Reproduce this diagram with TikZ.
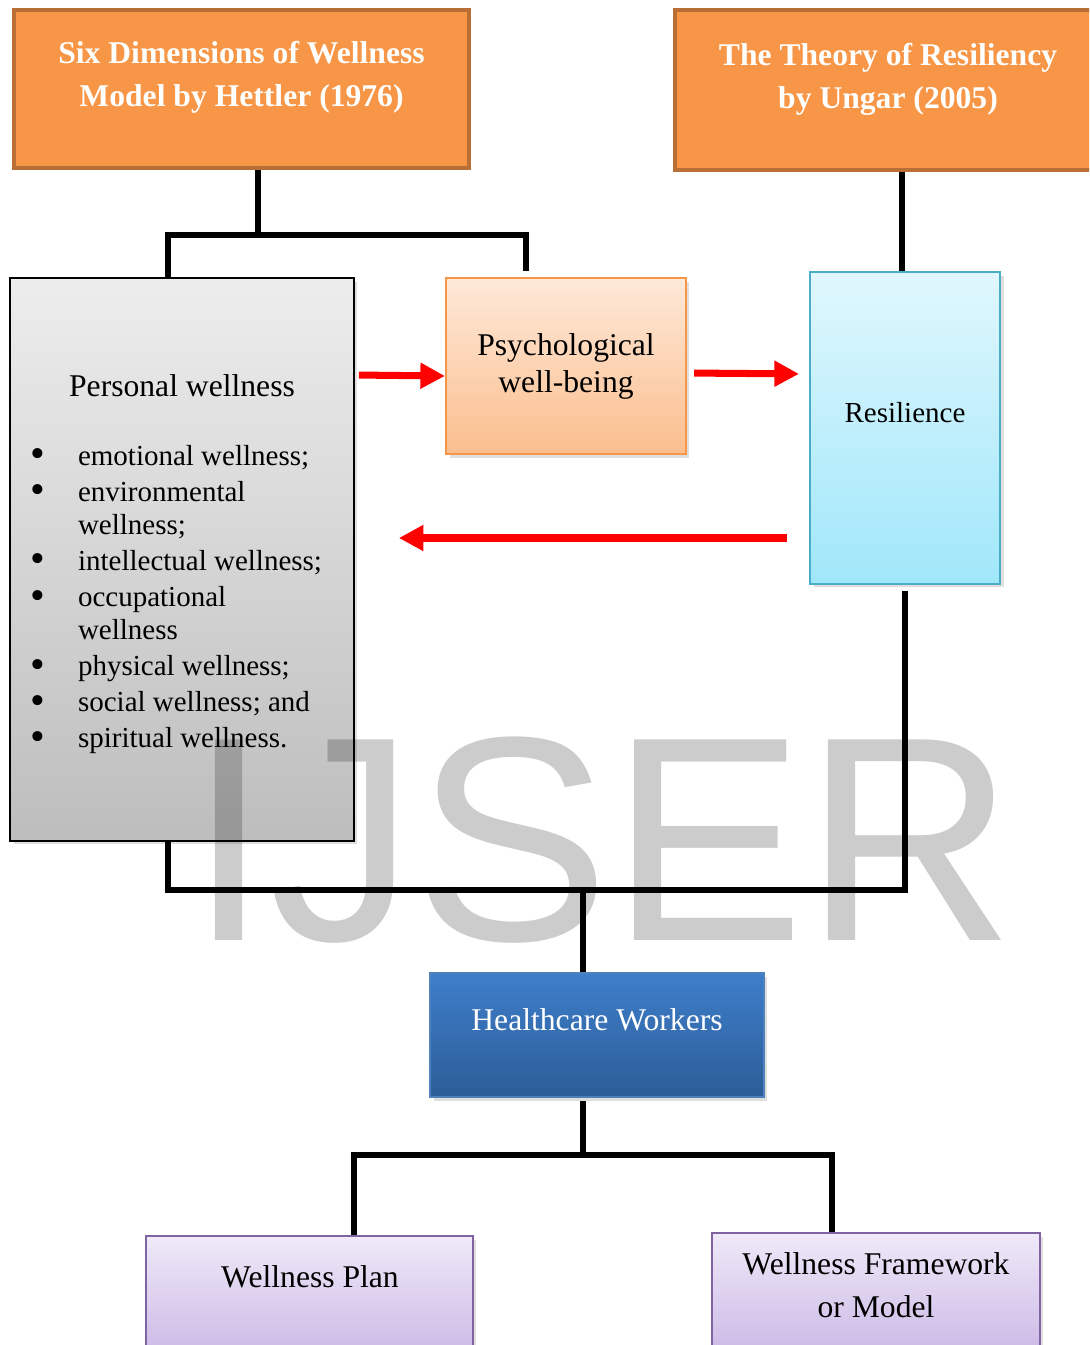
\documentclass[tikz,border=0pt]{standalone}
\usepackage{fontspec}
\setmainfont{Liberation Serif}
\newfontfamily\wmfont{Liberation Sans}
\usetikzlibrary{arrows.meta, shadows}
\definecolor{hdrorange}{RGB}{247,150,70}
\definecolor{hdrborder}{RGB}{184,110,52}
\definecolor{graytop}{RGB}{237,237,237}
\definecolor{graybot}{RGB}{189,189,189}
\definecolor{peachtop}{RGB}{254,233,217}
\definecolor{peachbot}{RGB}{251,190,142}
\definecolor{cyantop}{RGB}{224,247,253}
\definecolor{cyanbot}{RGB}{160,231,250}
\definecolor{cyanborder}{RGB}{75,172,198}
\definecolor{bluetop}{RGB}{62,126,202}
\definecolor{bluebot}{RGB}{44,93,152}
\definecolor{blueborder}{RGB}{79,129,189}
\definecolor{lilactop}{RGB}{239,233,248}
\definecolor{lilacbot}{RGB}{203,184,230}
\definecolor{lilacborder}{RGB}{128,100,162}
\newcommand{\bigbullet}{\raisebox{-0.09em}{\scalebox{1.45}{\textbullet}}}

\begin{document}
\begin{tikzpicture}[x=0.02cm, y=-0.02cm,
        theory/.style={draw=hdrborder, line width=2.2pt, fill=hdrorange, minimum height=3.16cm},
        theorytxt/.style={text=white, align=center, font=\bfseries\fontsize{18}{24.5}\selectfont},
        softshadow/.style={drop shadow={opacity=0.25, shadow xshift=2pt, shadow yshift=-2pt}},
        greybox/.style={draw=black, line width=1pt, top color=graytop, bottom color=graybot, softshadow},
        peachbox/.style={draw=hdrorange, line width=1.2pt, top color=peachtop, bottom color=peachbot, softshadow},
        cyanbox/.style={draw=cyanborder, line width=1.2pt, top color=cyantop, bottom color=cyanbot, softshadow},
        bluebox/.style={draw=blueborder, line width=1pt, top color=bluetop, bottom color=bluebot, softshadow},
        lilacbox/.style={draw=lilacborder, line width=1.2pt, top color=lilactop, bottom color=lilacbot, softshadow},
        boxtxt/.style={align=center, font=\fontsize{18}{21}\selectfont},
        tree/.style={draw=black, line width=3.4pt},
        redarrow/.style={draw=red, line width=4pt, -{Triangle[length=14pt, width=14pt]}},
        wmark/.style={font=\wmfont\fontsize{166}{166}\selectfont, text=black, text opacity=0.2, inner sep=0pt}]

        \useasboundingbox (0,0) rectangle (1089,1345);
        \clip (0,0) rectangle (1089,1345);

        % Theories
        \node[theory, minimum width=9.1cm] (hettler) at (241.5,89) {};
        \node[theorytxt] (hettler-t) at (241.5,77) {Six Dimensions of Wellness\\Model by Hettler (1976)};
        \node[theory, minimum width=8.52cm, minimum height=3.2cm] (ungar) at (888,90) {};
        \node[theorytxt] (ungar-t) at (888,79) {The Theory of Resiliency\\by Ungar (2005)};

        % Middle row
        \node[greybox, minimum width=6.88cm, minimum height=11.26cm] (personal) at (182,559.5) {};
        \node[boxtxt] (personal-t) at (182,386) {Personal wellness};
        \node[anchor=base west, inner sep=0pt, font=\fontsize{16.5}{18.7}\selectfont] (dimensions) at (30,465) {%
            \begin{tabular}[t]{@{}l@{\hspace{0.66cm}}l@{}}
            \bigbullet & emotional wellness;\\[1.9pt]
            \bigbullet & environmental\\
                       & wellness;\\[1.9pt]
            \bigbullet & intellectual wellness;\\[1.9pt]
            \bigbullet & occupational\\
                       & wellness\\[1.9pt]
            \bigbullet & physical wellness;\\[1.9pt]
            \bigbullet & social wellness; and\\[1.9pt]
            \bigbullet & spiritual wellness.
            \end{tabular}};
        \node[peachbox, minimum width=4.8cm, minimum height=3.52cm] (psych) at (566,366) {};
        \node[boxtxt] (psych-t) at (566,366) {Psychological\\well-being};
        \node[cyanbox, minimum width=3.8cm, minimum height=6.24cm] (resil) at (905,428) {};
        \node[boxtxt, font=\fontsize{16.5}{19}\selectfont] (resil-t) at (905,413) {Resilience};

        % Target group and outcomes
        \node[bluebox, minimum width=6.68cm, minimum height=2.48cm] (hcw) at (597,1035) {};
        \node[boxtxt, text=white] (hcw-t) at (597,1020) {Healthcare Workers};
        \node[lilacbox, minimum width=6.54cm, minimum height=2.48cm] (plan) at (309.5,1298) {};
        \node[boxtxt] (plan-t) at (310,1277) {Wellness Plan};
        \node[lilacbox, minimum width=6.56cm, minimum height=2.48cm] (frame) at (876,1295) {};
        \node[boxtxt, font=\fontsize{18}{24.4}\selectfont] (frame-t) at (876,1285) {Wellness Framework\\or Model};

        % Watermark
        \node[wmark, anchor=base] (ijser) at (602,940) {IJSER};

        % Bus lines
        \coordinate (bus1) at (0,235);
        \coordinate (bus2) at (0,890);
        \coordinate (bus3) at (0,1155);

        % Connectors
        \draw[tree] (hettler.south -| 258,0) -- (bus1 -| 258,0);
        \draw[tree] (personal.north -| 168,0) |- (bus1 -| 526,0) -- ([yshift=0.12cm]psych.north -| 526,0);
        \draw[tree] (ungar.south -| 902,0) -- (resil.north -| 902,0);
        \draw[tree] (personal.south -| 168,0) |- (bus2 -| 905,0) -- ([yshift=-0.12cm]resil.south -| 905,0);
        \draw[tree] (bus2 -| 583,0) -- (hcw.north -| 583,0);
        \draw[tree] ([yshift=-0.06cm]hcw.south -| 583,0) -- (bus3 -| 583,0);
        \draw[tree] (plan.north -| 354,0) |- (bus3 -| 832,0) -- (frame.north -| 832,0);

        % Arrows
        \draw[redarrow, shorten <=0.08cm] (personal.east |- 0,375) -- (psych.west |- 0,376);
        \draw[redarrow, shorten <=0.14cm, shorten >=0.2cm] (psych.east |- 0,373) -- (resil.west |- 0,374);
        \draw[redarrow, shorten <=0.44cm, shorten >=0.88cm] (resil.west |- 0,538) -- (personal.east |- 0,538);
\end{tikzpicture}
\end{document}
